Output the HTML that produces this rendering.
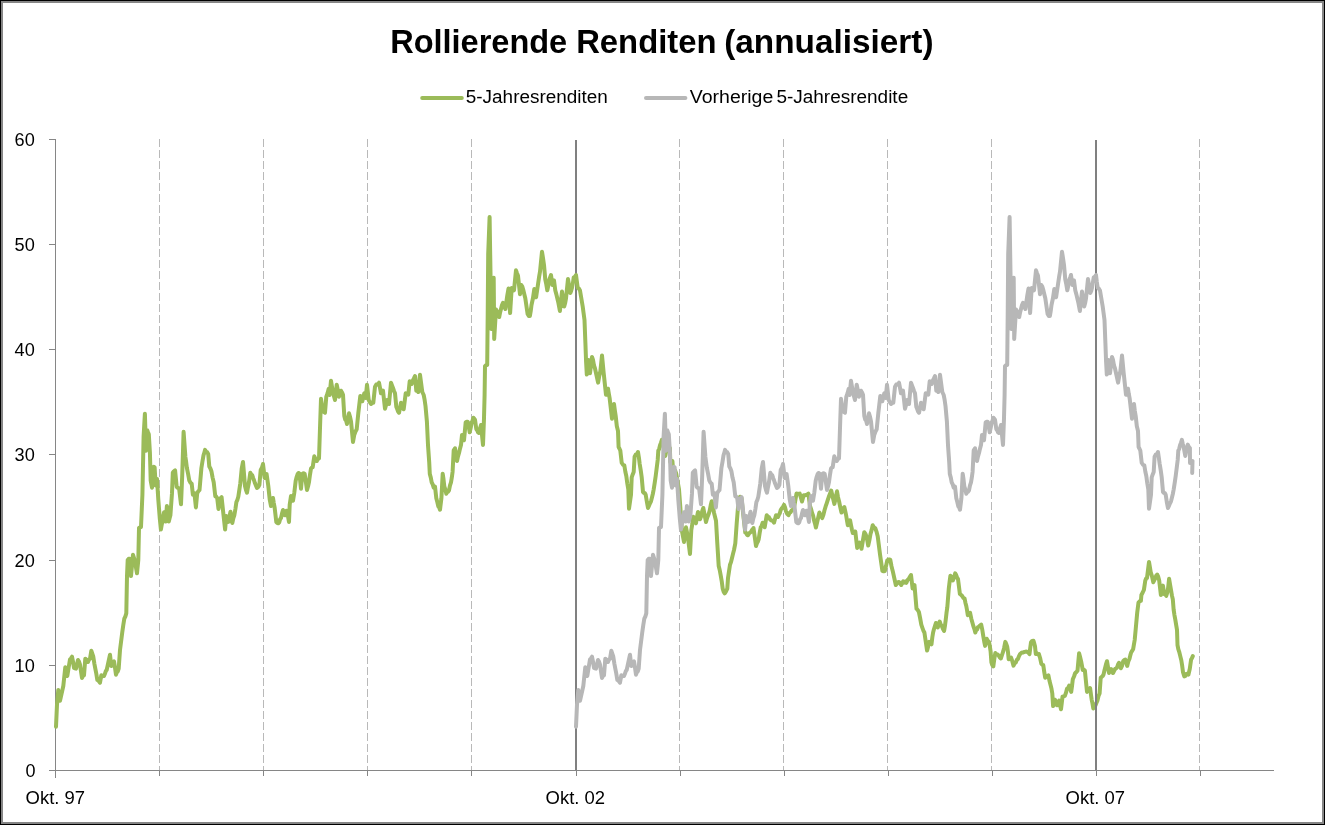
<!DOCTYPE html>
<html><head><meta charset="utf-8"><title>Rollierende Renditen</title>
<style>
html,body{margin:0;padding:0;background:#fff;}
body{width:1325px;height:825px;overflow:hidden;font-family:"Liberation Sans",sans-serif;}
svg{display:block;}
text{font-family:"Liberation Sans",sans-serif;fill:#000;}
.t{filter:grayscale(1);}
</style></head><body>
<svg width="1325" height="825" viewBox="0 0 1325 825">
<rect x="0" y="0" width="1325" height="825" fill="#000"/>
<rect x="1" y="1" width="1323" height="823" fill="#868686"/>
<rect x="3" y="3" width="1319" height="819" fill="#fff"/>
<g class="t" font-size="33" font-weight="bold">
<text x="390.2" y="52.6" textLength="177" lengthAdjust="spacingAndGlyphs">Rollierende</text>
<text x="576.2" y="52.6" textLength="140.3" lengthAdjust="spacingAndGlyphs">Renditen</text>
<text x="724.2" y="52.6" textLength="209.3" lengthAdjust="spacingAndGlyphs">(annualisiert)</text>
</g>
<g stroke-width="4" stroke-linecap="round" fill="none">
<line x1="422.2" y1="98" x2="461.8" y2="98" stroke="#9BBB59"/>
<line x1="646" y1="98" x2="685.4" y2="98" stroke="#B7B7B7"/>
</g>
<g class="t" font-size="17.5">
<text id="leg1" x="465.8" y="103.3" textLength="142" lengthAdjust="spacingAndGlyphs">5-Jahresrenditen</text>
<text x="689.8" y="103.3" textLength="83.5" lengthAdjust="spacingAndGlyphs">Vorherige</text>
<text x="776.4" y="103.3" textLength="131.8" lengthAdjust="spacingAndGlyphs">5-Jahresrendite</text>
</g>
<g stroke="#B9B9B9" stroke-width="1" stroke-dasharray="8 3" fill="none" shape-rendering="crispEdges"><line x1="159.5" y1="139" x2="159.5" y2="770" /><line x1="263.5" y1="139" x2="263.5" y2="770" /><line x1="367.5" y1="139" x2="367.5" y2="770" /><line x1="471.5" y1="139" x2="471.5" y2="770" /><line x1="679.5" y1="139" x2="679.5" y2="770" /><line x1="783.5" y1="139" x2="783.5" y2="770" /><line x1="887.5" y1="139" x2="887.5" y2="770" /><line x1="991.5" y1="139" x2="991.5" y2="770" /><line x1="1199.5" y1="139" x2="1199.5" y2="770" /></g>
<g stroke="#868686" stroke-width="1" fill="none" shape-rendering="crispEdges">
<line x1="55.5" y1="139" x2="55.5" y2="778"/>
<line x1="49" y1="770.5" x2="1274" y2="770.5"/>
<line x1="49" y1="139.5" x2="56" y2="139.5" /><line x1="49" y1="244.5" x2="56" y2="244.5" /><line x1="49" y1="349.5" x2="56" y2="349.5" /><line x1="49" y1="454.5" x2="56" y2="454.5" /><line x1="49" y1="560.5" x2="56" y2="560.5" /><line x1="49" y1="665.5" x2="56" y2="665.5" /><line x1="49" y1="770.5" x2="56" y2="770.5" />
<line x1="159.5" y1="770" x2="159.5" y2="776" /><line x1="263.5" y1="770" x2="263.5" y2="776" /><line x1="367.5" y1="770" x2="367.5" y2="776" /><line x1="471.5" y1="770" x2="471.5" y2="776" /><line x1="576.5" y1="770" x2="576.5" y2="776" /><line x1="680.5" y1="770" x2="680.5" y2="776" /><line x1="784.5" y1="770" x2="784.5" y2="776" /><line x1="888.5" y1="770" x2="888.5" y2="776" /><line x1="992.5" y1="770" x2="992.5" y2="776" /><line x1="1096.5" y1="770" x2="1096.5" y2="776" /><line x1="1200.5" y1="770" x2="1200.5" y2="776" />
</g>
<line x1="576" y1="140" x2="576" y2="770" stroke="#808080" stroke-width="2" shape-rendering="crispEdges"/>
<path d="M56.0 726.7 L57.0 704.7 L58.3 690.0 L59.1 695.0 L60.0 700.7 L63.3 686.0 L65.3 667.3 L66.3 671.0 L67.3 676.0 L70.0 659.3 L71.0 658.3 L72.0 656.7 L73.0 661.6 L74.0 668.0 L75.0 668.4 L76.0 668.7 L77.0 664.1 L78.0 660.0 L79.0 661.6 L80.0 664.7 L81.0 671.4 L82.0 678.0 L83.0 675.8 L84.0 675.3 L85.3 658.7 L86.2 659.7 L87.1 661.7 L88.0 662.0 L89.0 659.6 L90.0 658.7 L91.3 650.7 L92.3 653.6 L93.3 656.7 L94.3 663.3 L95.3 668.7 L96.3 673.7 L97.3 680.0 L98.2 680.4 L99.1 681.6 L100.0 682.7 L101.3 675.3 L102.2 676.3 L103.1 675.6 L104.0 676.0 L104.9 673.8 L105.8 671.1 L106.7 670.0 L110.0 654.7 L111.3 666.0 L112.2 663.6 L113.1 662.2 L114.0 661.3 L115.0 667.6 L116.0 674.7 L116.9 672.1 L117.8 671.4 L118.7 668.7 L120.0 650.0 L122.3 632.0 L123.3 625.0 L124.3 618.7 L125.3 616.6 L126.3 613.3 L127.0 576.0 L127.7 560.0 L128.7 558.8 L129.7 558.7 L131.0 576.0 L133.0 554.7 L134.0 558.1 L135.0 561.3 L136.0 567.6 L137.0 573.3 L138.3 560.0 L139.0 528.0 L140.0 527.3 L141.0 527.0 L142.4 495.0 L143.6 436.5 L144.9 413.7 L146.0 450.7 L147.2 430.2 L148.0 432.3 L148.8 434.2 L149.9 452.3 L150.7 480.6 L152.0 487.7 L153.1 468.0 L153.8 466.8 L154.6 467.2 L155.7 485.4 L157.0 479.0 L158.3 499.5 L159.8 518.5 L160.9 529.5 L161.7 524.8 L162.5 521.6 L163.3 516.4 L164.1 512.2 L164.9 517.2 L165.7 521.6 L166.9 505.9 L168.8 521.6 L169.6 518.3 L170.4 515.3 L172.0 493.2 L172.8 472.8 L173.9 471.3 L175.1 470.4 L176.7 486.9 L177.9 487.9 L179.1 488.5 L181.0 504.3 L182.2 475.9 L183.6 431.8 L185.4 457.0 L186.2 462.4 L186.9 468.0 L188.1 473.9 L189.3 480.6 L190.5 482.7 L191.7 483.8 L192.9 494.8 L193.7 494.3 L194.4 493.0 L195.9 507.4 L197.2 493.2 L198.3 491.2 L199.5 490.1 L201.4 468.0 L202.4 461.8 L203.5 455.4 L204.3 452.7 L205.1 449.9 L206.1 451.9 L207.2 452.2 L208.2 453.9 L209.3 466.5 L210.4 468.5 L211.4 471.2 L212.6 477.6 L213.7 482.2 L215.3 496.4 L216.2 496.5 L217.2 498.0 L218.5 509.0 L219.7 499.5 L220.6 498.2 L221.6 497.2 L223.2 512.2 L225.1 529.5 L226.3 516.0 L227.4 519.4 L228.5 521.8 L229.5 516.2 L230.5 511.8 L231.4 517.4 L232.3 523.0 L233.3 518.3 L234.3 515.3 L235.4 509.0 L236.4 502.0 L237.4 499.8 L238.3 496.7 L239.3 490.1 L240.3 483.3 L241.7 468.7 L243.0 462.0 L245.0 486.0 L246.0 490.0 L247.0 492.7 L248.0 487.0 L249.0 482.0 L250.3 472.7 L251.3 474.4 L252.3 475.3 L253.2 478.1 L254.1 480.5 L255.0 483.3 L256.0 485.6 L257.0 488.0 L258.2 487.0 L259.4 484.7 L260.7 470.0 L261.9 467.8 L263.0 464.0 L264.7 478.0 L265.6 476.0 L266.6 474.0 L267.5 480.3 L268.3 486.0 L269.7 499.3 L271.0 506.0 L272.0 501.2 L273.0 498.0 L273.8 503.0 L274.6 507.3 L276.3 522.0 L277.3 522.9 L278.3 523.3 L279.2 522.4 L280.1 519.2 L281.0 518.0 L282.0 513.6 L283.0 510.0 L284.0 512.4 L285.0 515.3 L285.8 513.3 L286.6 510.7 L287.8 515.5 L289.0 522.0 L289.7 504.7 L291.0 496.0 L292.0 498.3 L293.0 500.7 L294.3 492.7 L295.7 480.7 L296.7 476.8 L297.7 474.0 L298.5 473.0 L299.4 473.3 L301.0 488.7 L302.3 474.0 L303.5 473.2 L304.7 474.0 L307.0 490.0 L308.0 486.5 L309.0 482.0 L310.0 474.6 L311.0 468.5 L311.9 467.4 L312.7 467.3 L313.5 461.6 L314.3 456.3 L315.6 459.3 L316.8 461.0 L317.9 458.9 L319.0 458.4 L320.0 428.0 L321.0 398.7 L321.8 404.6 L322.6 410.7 L323.8 411.8 L325.0 412.7 L326.3 396.7 L327.5 393.4 L328.7 388.7 L329.6 395.0 L331.0 380.7 L331.9 386.3 L332.7 390.7 L333.9 396.0 L335.0 400.0 L336.7 384.7 L337.9 390.3 L339.0 396.7 L340.0 393.5 L341.0 390.7 L342.0 392.4 L343.0 394.7 L344.3 416.0 L345.2 419.4 L346.1 420.5 L347.0 424.0 L348.0 418.0 L349.0 413.3 L350.0 416.7 L351.0 421.3 L353.0 442.0 L354.3 434.7 L355.5 431.5 L356.7 429.3 L358.3 413.3 L360.3 396.0 L361.3 398.2 L362.3 401.3 L363.3 397.3 L364.3 393.3 L365.7 398.0 L367.0 384.7 L368.7 400.0 L369.9 402.2 L371.0 404.0 L372.1 402.9 L373.3 402.7 L375.0 386.7 L376.3 384.5 L377.7 384.2 L379.0 382.7 L380.0 387.8 L381.0 393.3 L382.0 392.1 L383.0 390.7 L385.0 408.7 L386.0 405.2 L387.0 400.0 L388.0 402.3 L389.0 404.0 L391.0 382.7 L392.0 385.4 L393.0 388.0 L394.0 390.9 L395.0 393.3 L396.3 406.7 L397.2 409.0 L398.1 411.5 L399.0 412.7 L400.0 408.4 L401.0 402.7 L401.9 405.4 L402.8 406.4 L403.7 409.3 L405.7 393.3 L406.6 394.3 L407.4 394.4 L408.3 394.7 L409.7 381.3 L410.7 382.5 L411.7 384.0 L412.8 380.6 L413.9 378.4 L415.0 376.0 L416.3 390.7 L417.3 390.6 L418.3 392.0 L420.0 374.7 L422.3 392.0 L423.7 395.0 L424.6 399.7 L425.5 406.0 L426.9 421.5 L428.0 445.0 L429.2 462.0 L429.8 474.0 L430.8 477.6 L431.7 482.3 L432.7 484.4 L433.7 487.7 L435.0 486.5 L436.3 498.3 L437.3 502.0 L438.3 506.3 L439.1 507.2 L440.0 509.7 L441.4 498.3 L442.7 473.7 L443.5 479.1 L444.3 486.3 L445.3 489.4 L446.3 493.7 L447.2 491.8 L448.1 491.7 L449.0 490.3 L450.0 485.4 L451.0 482.3 L451.8 477.7 L452.6 471.7 L453.7 450.3 L455.0 448.3 L456.0 454.9 L457.0 461.0 L458.0 456.4 L459.0 453.0 L460.0 448.6 L461.0 445.0 L462.0 435.0 L463.0 437.4 L464.0 440.3 L465.7 422.3 L466.7 421.8 L467.7 421.7 L468.7 426.3 L469.7 432.3 L470.7 427.9 L471.7 422.3 L472.5 420.9 L473.3 417.7 L474.1 418.6 L475.0 419.7 L476.3 429.0 L477.2 430.3 L478.1 432.4 L479.0 433.0 L480.0 428.3 L481.0 425.0 L483.0 445.0 L484.0 418.3 L484.6 395.0 L485.0 366.0 L486.1 365.2 L487.2 365.0 L487.7 315.0 L488.2 254.0 L489.6 217.0 L490.6 280.0 L491.3 329.0 L492.4 292.0 L493.7 277.7 L494.2 339.0 L496.0 309.5 L497.1 311.6 L498.1 313.9 L499.2 317.0 L500.1 312.4 L501.0 309.0 L502.0 305.0 L503.0 302.8 L504.2 306.7 L505.4 309.0 L506.3 302.6 L507.2 296.0 L508.5 288.5 L510.1 313.0 L511.7 288.0 L512.9 288.5 L514.0 290.3 L516.0 270.3 L517.0 273.1 L518.0 275.7 L520.0 294.3 L521.3 285.0 L522.3 286.6 L523.3 290.0 L524.3 294.2 L525.3 298.3 L527.6 314.0 L528.8 315.9 L529.9 316.0 L530.7 311.2 L531.5 305.0 L532.9 298.5 L534.3 289.0 L535.2 293.5 L536.1 297.2 L538.2 283.0 L539.1 276.9 L540.0 271.7 L542.0 251.7 L543.0 258.1 L544.0 265.0 L545.3 279.7 L546.3 284.4 L547.3 290.3 L548.3 285.5 L549.3 279.7 L550.1 277.4 L551.0 275.0 L552.4 285.0 L553.2 283.3 L554.0 280.5 L555.3 290.5 L556.3 294.1 L557.3 298.3 L558.2 302.0 L559.0 306.2 L559.9 311.0 L562.0 291.5 L564.2 306.5 L565.1 303.3 L566.0 298.3 L568.0 279.0 L570.3 293.0 L571.1 291.0 L572.0 287.7 L572.9 283.2 L573.7 277.5 L574.9 276.8 L576.0 275.0 L576.9 281.8 L577.7 287.7 L578.9 288.6 L580.0 290.5 L582.7 306.5 L583.6 313.3 L584.5 320.0 L585.4 343.0 L586.1 362.0 L586.8 374.6 L588.3 360.0 L589.1 366.4 L590.0 373.3 L592.0 356.9 L593.0 359.9 L594.0 365.5 L595.0 368.5 L598.1 382.6 L599.2 376.4 L600.4 371.0 L602.0 355.4 L603.7 373.3 L606.0 394.7 L607.0 391.3 L608.0 388.7 L608.9 394.0 L609.7 398.7 L612.0 418.7 L614.0 404.0 L614.9 410.8 L615.7 416.0 L616.8 426.0 L618.0 431.0 L618.6 447.0 L619.5 448.7 L620.3 450.5 L621.7 462.7 L623.0 464.8 L624.3 465.3 L625.3 471.5 L626.3 476.0 L627.3 483.5 L628.3 489.3 L629.0 508.7 L631.0 494.7 L631.7 477.3 L632.7 474.4 L633.7 472.0 L634.6 456.7 L635.7 454.6 L636.9 454.1 L638.0 452.0 L638.9 457.5 L639.7 464.0 L640.7 470.1 L641.7 477.3 L643.0 492.0 L643.9 493.1 L644.8 493.1 L645.7 494.7 L646.9 502.0 L648.0 508.0 L649.0 505.7 L650.0 503.3 L651.0 501.3 L651.9 497.8 L652.8 494.0 L653.7 489.3 L654.7 482.9 L655.7 476.0 L657.7 460.0 L658.3 450.7 L659.2 448.8 L660.1 444.9 L661.0 442.7 L661.9 439.9 L662.8 444.0 L663.7 447.2 L664.5 451.6 L665.3 456.0 L666.5 449.7 L667.8 444.6 L668.8 446.8 L669.9 448.0 L670.3 462.0 L671.3 461.2 L672.4 461.0 L672.8 466.0 L674.0 469.2 L675.1 470.5 L676.3 474.0 L679.0 489.3 L680.3 507.0 L682.0 531.3 L683.0 536.5 L684.0 542.0 L686.0 527.3 L687.0 532.5 L688.0 538.0 L690.0 554.0 L691.3 530.0 L692.3 524.2 L693.3 516.7 L694.2 519.3 L695.1 521.7 L696.0 523.3 L697.0 517.0 L698.0 512.0 L699.0 515.0 L700.0 519.3 L701.1 516.3 L702.2 511.2 L703.3 508.0 L706.0 522.0 L706.9 518.7 L707.8 516.1 L708.7 514.0 L709.7 510.6 L710.7 505.3 L711.7 501.3 L712.9 506.7 L714.0 512.7 L715.0 516.8 L716.0 520.7 L717.3 543.3 L718.7 566.0 L719.7 570.0 L720.7 575.3 L721.7 581.1 L722.7 588.7 L723.7 591.8 L724.7 593.3 L726.0 591.3 L727.3 588.7 L728.0 578.0 L729.0 571.4 L730.0 564.7 L731.0 562.1 L732.0 558.0 L733.0 553.9 L734.0 550.0 L735.3 543.3 L736.7 523.3 L738.0 507.3 L739.0 502.7 L740.0 496.7 L740.8 497.9 L741.5 498.0 L743.3 515.0 L745.3 532.7 L746.2 533.0 L747.1 534.9 L748.0 535.3 L749.3 533.2 L750.7 532.2 L752.0 530.0 L752.8 529.2 L753.5 528.0 L756.0 546.0 L756.9 543.3 L757.8 541.7 L758.7 539.3 L759.7 532.6 L760.7 527.3 L761.7 525.7 L762.7 522.7 L763.7 524.7 L764.7 527.3 L765.7 521.2 L766.7 515.3 L767.8 516.8 L768.9 517.2 L770.0 519.3 L771.3 520.3 L772.7 520.8 L774.0 522.7 L775.0 519.0 L776.0 515.3 L777.0 516.2 L778.0 517.0 L778.9 514.7 L779.8 513.2 L780.7 510.0 L781.8 508.2 L782.9 507.2 L784.0 504.9 L785.0 507.2 L786.0 511.3 L787.2 513.8 L788.5 515.2 L789.5 513.0 L790.6 512.1 L791.6 510.5 L792.8 509.7 L794.0 508.0 L796.5 493.6 L797.6 493.7 L798.6 493.9 L799.7 493.6 L800.9 497.6 L802.0 501.5 L802.8 498.4 L803.6 495.2 L805.2 495.2 L806.8 494.8 L808.4 493.6 L809.2 499.9 L810.0 506.0 L811.0 508.8 L812.1 512.9 L813.1 515.7 L814.0 520.1 L815.0 523.6 L815.9 527.5 L819.4 512.5 L820.3 514.5 L821.3 515.8 L822.2 518.1 L823.4 514.9 L824.5 510.3 L825.7 506.2 L826.7 503.3 L827.8 499.9 L828.8 496.8 L830.0 493.7 L831.2 490.5 L832.3 495.3 L833.3 499.5 L834.4 503.9 L835.3 499.8 L836.1 495.5 L837.0 491.3 L838.0 497.2 L839.1 501.5 L840.3 507.4 L841.5 512.5 L842.4 511.3 L843.4 508.0 L844.3 507.0 L845.2 510.9 L846.2 515.7 L847.0 520.6 L847.8 525.2 L849.0 523.6 L850.1 520.4 L851.0 525.2 L851.9 529.5 L852.8 533.0 L854.0 531.6 L855.3 531.5 L857.2 548.0 L858.4 545.1 L859.6 542.5 L860.5 544.9 L861.5 548.8 L864.3 532.2 L865.3 533.6 L866.3 536.0 L867.2 540.0 L868.2 545.6 L869.4 540.1 L870.5 534.0 L871.6 530.1 L872.7 525.2 L874.0 527.5 L875.3 528.3 L876.5 531.6 L877.7 536.2 L880.1 555.1 L882.4 570.9 L883.6 571.3 L884.8 571.0 L886.0 566.1 L887.2 560.6 L888.2 559.7 L889.3 559.4 L890.3 559.8 L891.5 566.2 L892.7 570.9 L895.8 585.0 L896.9 583.5 L897.9 582.1 L899.0 581.9 L900.1 583.3 L901.3 585.0 L902.2 583.1 L903.2 581.3 L904.2 582.7 L905.3 581.7 L906.3 582.8 L907.5 580.2 L908.7 578.9 L909.9 576.8 L911.0 575.0 L911.8 581.7 L912.6 588.4 L913.5 586.5 L914.5 585.2 L916.5 608.8 L917.7 609.9 L918.9 612.0 L920.1 618.0 L921.3 624.6 L922.3 627.6 L923.4 630.7 L924.4 632.5 L927.1 650.6 L928.2 646.3 L929.2 641.9 L930.4 643.0 L931.5 644.3 L932.3 637.5 L933.1 632.5 L934.0 629.0 L935.0 625.9 L935.9 623.0 L936.8 625.3 L937.8 627.5 L938.8 623.7 L939.7 621.5 L940.8 624.6 L941.8 626.0 L943.0 629.0 L944.1 630.9 L944.9 626.2 L945.7 619.9 L946.5 612.9 L947.3 607.3 L948.8 588.4 L949.6 581.7 L950.4 575.8 L951.6 577.3 L952.8 580.5 L954.0 577.5 L955.2 573.4 L956.1 574.8 L957.1 577.7 L958.0 578.9 L959.9 593.9 L961.0 594.8 L962.2 596.0 L963.4 598.0 L964.6 598.6 L965.4 602.7 L966.2 605.7 L967.0 610.0 L967.8 615.2 L969.0 613.4 L970.1 612.8 L971.3 618.7 L972.5 623.0 L973.4 626.3 L974.4 629.0 L975.3 632.5 L976.2 629.9 L977.1 629.6 L978.0 627.0 L979.1 626.5 L980.1 625.5 L981.2 624.6 L982.2 629.3 L983.2 635.6 L984.2 641.5 L985.1 645.9 L985.9 642.6 L986.7 638.8 L987.9 640.9 L989.0 642.0 L989.8 646.0 L990.6 651.4 L991.4 662.4 L992.3 665.0 L993.3 666.4 L994.3 658.9 L995.3 653.0 L996.5 654.4 L997.7 654.5 L998.8 655.8 L999.8 657.5 L1000.9 658.5 L1002.0 655.0 L1003.2 651.4 L1004.2 647.4 L1005.3 641.9 L1006.2 643.9 L1007.2 646.7 L1008.0 652.3 L1008.7 659.3 L1009.9 658.5 L1011.1 657.7 L1012.3 661.2 L1013.5 665.6 L1014.6 663.3 L1015.8 662.4 L1016.9 659.7 L1017.9 659.0 L1019.0 656.1 L1020.1 654.0 L1021.3 653.0 L1022.2 652.4 L1023.2 652.5 L1024.5 651.9 L1025.8 651.6 L1027.1 651.8 L1028.3 652.6 L1029.5 654.1 L1030.2 648.2 L1031.0 642.3 L1032.2 640.9 L1033.4 640.7 L1034.2 643.2 L1035.0 646.2 L1035.8 654.1 L1036.8 653.2 L1037.9 654.5 L1038.9 654.1 L1040.1 658.0 L1041.3 663.6 L1042.3 664.8 L1043.3 665.2 L1044.2 671.6 L1045.2 677.8 L1046.3 676.4 L1047.3 676.2 L1048.4 675.4 L1049.6 681.3 L1050.7 685.6 L1051.5 688.8 L1052.3 693.5 L1053.1 706.1 L1054.0 703.5 L1055.0 699.8 L1056.0 702.4 L1057.0 705.3 L1058.0 702.9 L1059.1 700.6 L1060.0 705.6 L1061.0 709.3 L1061.8 702.8 L1062.5 696.7 L1063.7 696.3 L1064.9 695.9 L1066.0 692.7 L1067.0 688.8 L1068.1 688.1 L1069.2 685.6 L1070.2 688.5 L1071.2 691.9 L1072.0 686.2 L1072.8 679.3 L1074.0 676.5 L1075.2 673.0 L1076.3 672.1 L1077.5 670.7 L1079.1 653.3 L1080.1 657.1 L1081.1 661.2 L1081.9 665.3 L1082.7 669.9 L1083.8 669.5 L1084.9 670.7 L1087.0 691.9 L1088.0 689.9 L1089.1 690.1 L1090.1 688.0 L1090.9 694.3 L1091.7 699.8 L1092.5 703.7 L1093.3 708.5 L1094.3 706.1 L1095.4 705.6 L1096.4 703.0 L1097.5 700.4 L1098.5 696.0 L1099.6 693.5 L1100.7 677.8 L1101.6 677.0 L1102.6 676.1 L1103.5 674.6 L1104.5 670.2 L1105.4 666.7 L1106.2 663.6 L1107.0 661.2 L1108.0 667.0 L1109.0 673.0 L1110.0 670.4 L1111.1 669.1 L1112.0 671.0 L1113.0 673.0 L1114.0 671.0 L1115.1 669.0 L1116.1 668.3 L1117.1 667.3 L1118.0 664.5 L1119.0 662.8 L1120.0 665.1 L1120.9 668.3 L1122.1 665.6 L1123.2 661.2 L1124.2 660.1 L1125.3 659.6 L1126.2 662.5 L1127.2 665.9 L1128.3 661.5 L1129.5 658.8 L1130.3 655.4 L1131.1 652.5 L1132.1 650.9 L1133.1 649.3 L1133.9 644.7 L1134.7 640.0 L1135.8 628.1 L1137.2 612.8 L1138.5 602.6 L1139.7 601.2 L1140.9 600.9 L1141.4 595.0 L1142.7 592.5 L1143.9 589.9 L1145.3 580.5 L1146.2 578.4 L1147.0 578.0 L1149.0 561.9 L1149.8 566.6 L1150.7 572.1 L1152.0 576.4 L1153.3 582.2 L1154.2 580.3 L1155.0 578.8 L1156.1 575.9 L1157.2 574.6 L1158.2 576.7 L1159.2 580.5 L1160.9 595.0 L1161.9 589.9 L1162.9 585.6 L1164.3 594.1 L1165.3 594.5 L1166.3 595.8 L1167.2 592.6 L1168.0 589.0 L1169.1 578.8 L1170.1 584.8 L1171.1 590.7 L1171.9 595.4 L1172.8 599.2 L1173.6 609.4 L1174.4 614.8 L1175.3 619.6 L1176.2 625.1 L1177.0 629.8 L1177.5 645.0 L1178.3 649.1 L1179.2 651.8 L1180.2 655.9 L1181.3 660.3 L1182.2 665.9 L1183.0 672.2 L1184.3 676.4 L1185.3 676.0 L1186.4 673.9 L1187.4 673.7 L1188.4 674.7 L1189.8 668.8 L1191.1 659.5 L1191.9 658.2 L1192.8 656.1" fill="none" stroke="#9BBB59" stroke-width="4" stroke-linejoin="round" stroke-linecap="round"/>
<line x1="1096" y1="140" x2="1096" y2="770" stroke="#808080" stroke-width="2" shape-rendering="crispEdges"/>
<path d="M576.0 726.7 L577.0 704.7 L578.3 690.0 L579.1 695.0 L580.0 700.7 L583.3 686.0 L585.3 667.3 L586.3 671.0 L587.3 676.0 L590.0 659.3 L591.0 658.3 L592.0 656.7 L593.0 661.6 L594.0 668.0 L595.0 668.4 L596.0 668.7 L597.0 664.1 L598.0 660.0 L599.0 661.6 L600.0 664.7 L601.0 671.4 L602.0 678.0 L603.0 675.8 L604.0 675.3 L605.3 658.7 L606.2 659.7 L607.1 661.7 L608.0 662.0 L609.0 659.6 L610.0 658.7 L611.3 650.7 L612.3 653.6 L613.3 656.7 L614.3 663.3 L615.3 668.7 L616.3 673.7 L617.3 680.0 L618.2 680.4 L619.1 681.6 L620.0 682.7 L621.3 675.3 L622.2 676.3 L623.1 675.6 L624.0 676.0 L624.9 673.8 L625.8 671.1 L626.7 670.0 L630.0 654.7 L631.3 666.0 L632.2 663.6 L633.1 662.2 L634.0 661.3 L635.0 667.6 L636.0 674.7 L636.9 672.1 L637.8 671.4 L638.7 668.7 L640.0 650.0 L642.3 632.0 L643.3 625.0 L644.3 618.7 L645.3 616.6 L646.3 613.3 L647.0 576.0 L647.7 560.0 L648.7 558.8 L649.7 558.7 L651.0 576.0 L653.0 554.7 L654.0 558.1 L655.0 561.3 L656.0 567.6 L657.0 573.3 L658.3 560.0 L659.0 528.0 L660.0 527.3 L661.0 527.0 L662.4 495.0 L663.6 436.5 L664.9 413.7 L666.0 450.7 L667.2 430.2 L668.0 432.3 L668.8 434.2 L669.9 452.3 L670.7 480.6 L672.0 487.7 L673.1 468.0 L673.9 466.8 L674.6 467.2 L675.7 485.4 L677.0 479.0 L678.3 499.5 L679.8 518.5 L680.9 529.5 L681.7 524.8 L682.5 521.6 L683.3 516.4 L684.1 512.2 L684.9 517.2 L685.7 521.6 L686.9 505.9 L688.8 521.6 L689.6 518.3 L690.4 515.3 L692.0 493.2 L692.8 472.8 L694.0 471.3 L695.1 470.4 L696.7 486.9 L697.9 487.9 L699.1 488.5 L701.0 504.3 L702.2 475.9 L703.6 431.8 L705.4 457.0 L706.1 462.4 L706.9 468.0 L708.1 473.9 L709.3 480.6 L710.5 482.7 L711.7 483.8 L712.9 494.8 L713.6 494.3 L714.4 493.0 L715.9 507.4 L717.2 493.2 L718.4 491.2 L719.5 490.1 L721.4 468.0 L722.5 461.8 L723.5 455.4 L724.3 452.7 L725.1 449.9 L726.1 451.9 L727.2 452.2 L728.2 453.9 L729.3 466.5 L730.4 468.5 L731.4 471.2 L732.5 477.6 L733.7 482.2 L735.3 496.4 L736.2 496.5 L737.2 498.0 L738.5 509.0 L739.7 499.5 L740.6 498.2 L741.6 497.2 L743.2 512.2 L745.1 529.5 L746.3 516.0 L747.4 519.4 L748.5 521.8 L749.5 516.2 L750.5 511.8 L751.4 517.4 L752.3 523.0 L753.3 518.3 L754.3 515.3 L755.4 509.0 L756.4 502.0 L757.4 499.8 L758.3 496.7 L759.3 490.1 L760.3 483.3 L761.7 468.7 L763.0 462.0 L765.0 486.0 L766.0 490.0 L767.0 492.7 L768.0 487.0 L769.0 482.0 L770.3 472.7 L771.3 474.4 L772.3 475.3 L773.2 478.1 L774.1 480.5 L775.0 483.3 L776.0 485.6 L777.0 488.0 L778.2 487.0 L779.4 484.7 L780.7 470.0 L781.9 467.8 L783.0 464.0 L784.7 478.0 L785.6 476.0 L786.6 474.0 L787.5 480.3 L788.3 486.0 L789.7 499.3 L791.0 506.0 L792.0 501.2 L793.0 498.0 L793.8 503.0 L794.6 507.3 L796.3 522.0 L797.3 522.9 L798.3 523.3 L799.2 522.4 L800.1 519.2 L801.0 518.0 L802.0 513.6 L803.0 510.0 L804.0 512.4 L805.0 515.3 L805.8 513.3 L806.6 510.7 L807.8 515.5 L809.0 522.0 L809.7 504.7 L811.0 496.0 L812.0 498.3 L813.0 500.7 L814.3 492.7 L815.7 480.7 L816.7 476.8 L817.7 474.0 L818.5 473.0 L819.4 473.3 L821.0 488.7 L822.3 474.0 L823.5 473.2 L824.7 474.0 L827.0 490.0 L828.0 486.5 L829.0 482.0 L830.0 474.6 L831.0 468.5 L831.9 467.4 L832.7 467.3 L833.5 461.6 L834.3 456.3 L835.5 459.3 L836.8 461.0 L837.9 458.9 L839.0 458.4 L840.0 428.0 L841.0 398.7 L841.8 404.6 L842.6 410.7 L843.8 411.8 L845.0 412.7 L846.3 396.7 L847.5 393.4 L848.7 388.7 L849.6 395.0 L851.0 380.7 L851.9 386.3 L852.7 390.7 L853.9 396.0 L855.0 400.0 L856.7 384.7 L857.9 390.3 L859.0 396.7 L860.0 393.5 L861.0 390.7 L862.0 392.4 L863.0 394.7 L864.3 416.0 L865.2 419.4 L866.1 420.5 L867.0 424.0 L868.0 418.0 L869.0 413.3 L870.0 416.7 L871.0 421.3 L873.0 442.0 L874.3 434.7 L875.5 431.5 L876.7 429.3 L878.3 413.3 L880.3 396.0 L881.3 398.2 L882.3 401.3 L883.3 397.3 L884.3 393.3 L885.7 398.0 L887.0 384.7 L888.7 400.0 L889.9 402.2 L891.0 404.0 L892.1 402.9 L893.3 402.7 L895.0 386.7 L896.3 384.5 L897.7 384.2 L899.0 382.7 L900.0 387.8 L901.0 393.3 L902.0 392.1 L903.0 390.7 L905.0 408.7 L906.0 405.2 L907.0 400.0 L908.0 402.3 L909.0 404.0 L911.0 382.7 L912.0 385.4 L913.0 388.0 L914.0 390.9 L915.0 393.3 L916.3 406.7 L917.2 409.0 L918.1 411.5 L919.0 412.7 L920.0 408.4 L921.0 402.7 L921.9 405.4 L922.8 406.4 L923.7 409.3 L925.7 393.3 L926.6 394.3 L927.4 394.4 L928.3 394.7 L929.7 381.3 L930.7 382.5 L931.7 384.0 L932.8 380.6 L933.9 378.4 L935.0 376.0 L936.3 390.7 L937.3 390.6 L938.3 392.0 L940.0 374.7 L942.3 392.0 L943.7 395.0 L944.6 399.7 L945.5 406.0 L946.9 421.5 L948.0 445.0 L949.2 462.0 L949.8 474.0 L950.8 477.6 L951.7 482.3 L952.7 484.4 L953.7 487.7 L955.0 486.5 L956.3 498.3 L957.3 502.0 L958.3 506.3 L959.1 507.2 L960.0 509.7 L961.4 498.3 L962.7 473.7 L963.5 479.1 L964.3 486.3 L965.3 489.4 L966.3 493.7 L967.2 491.8 L968.1 491.7 L969.0 490.3 L970.0 485.4 L971.0 482.3 L971.8 477.7 L972.6 471.7 L973.7 450.3 L975.0 448.3 L976.0 454.9 L977.0 461.0 L978.0 456.4 L979.0 453.0 L980.0 448.6 L981.0 445.0 L982.0 435.0 L983.0 437.4 L984.0 440.3 L985.7 422.3 L986.7 421.8 L987.7 421.7 L988.7 426.3 L989.7 432.3 L990.7 427.9 L991.7 422.3 L992.5 420.9 L993.3 417.7 L994.1 418.6 L995.0 419.7 L996.3 429.0 L997.2 430.3 L998.1 432.4 L999.0 433.0 L1000.0 428.3 L1001.0 425.0 L1003.0 445.0 L1004.0 418.3 L1004.6 395.0 L1005.0 366.0 L1006.1 365.2 L1007.2 365.0 L1007.7 315.0 L1008.2 254.0 L1009.6 217.0 L1010.6 280.0 L1011.3 329.0 L1012.4 292.0 L1013.7 277.7 L1014.2 339.0 L1016.0 309.5 L1017.1 311.6 L1018.1 313.9 L1019.2 317.0 L1020.1 312.4 L1021.0 309.0 L1022.0 305.0 L1023.0 302.8 L1024.2 306.7 L1025.4 309.0 L1026.3 302.6 L1027.2 296.0 L1028.5 288.5 L1030.1 313.0 L1031.7 288.0 L1032.8 288.5 L1034.0 290.3 L1036.0 270.3 L1037.0 273.1 L1038.0 275.7 L1040.0 294.3 L1041.3 285.0 L1042.3 286.6 L1043.3 290.0 L1044.3 294.2 L1045.3 298.3 L1047.6 314.0 L1048.8 315.9 L1049.9 316.0 L1050.7 311.2 L1051.5 305.0 L1052.9 298.5 L1054.3 289.0 L1055.2 293.5 L1056.1 297.2 L1058.2 283.0 L1059.1 276.9 L1060.0 271.7 L1062.0 251.7 L1063.0 258.1 L1064.0 265.0 L1065.3 279.7 L1066.3 284.4 L1067.3 290.3 L1068.3 285.5 L1069.3 279.7 L1070.2 277.4 L1071.0 275.0 L1072.4 285.0 L1073.2 283.3 L1074.0 280.5 L1075.3 290.5 L1076.3 294.1 L1077.3 298.3 L1078.2 302.0 L1079.0 306.2 L1079.9 311.0 L1082.0 291.5 L1084.2 306.5 L1085.1 303.3 L1086.0 298.3 L1088.0 279.0 L1090.3 293.0 L1091.2 291.0 L1092.0 287.7 L1092.8 283.2 L1093.7 277.5 L1094.8 276.8 L1096.0 275.0 L1096.8 281.8 L1097.7 287.7 L1098.8 288.6 L1100.0 290.5 L1102.7 306.5 L1103.6 313.3 L1104.5 320.0 L1105.4 343.0 L1106.1 362.0 L1106.8 374.6 L1108.3 360.0 L1109.2 366.4 L1110.0 373.3 L1112.0 356.9 L1113.0 359.9 L1114.0 365.5 L1115.0 368.5 L1118.1 382.6 L1119.2 376.4 L1120.4 371.0 L1122.0 355.4 L1123.7 373.3 L1126.0 394.7 L1127.0 391.3 L1128.0 388.7 L1128.8 394.0 L1129.7 398.7 L1132.0 418.7 L1134.0 404.0 L1134.8 410.8 L1135.7 416.0 L1136.8 426.0 L1138.0 431.0 L1138.6 447.0 L1139.5 448.7 L1140.3 450.5 L1141.7 462.7 L1143.0 464.8 L1144.3 465.3 L1145.3 471.5 L1146.3 476.0 L1147.3 483.5 L1148.3 489.3 L1149.0 508.7 L1151.0 494.7 L1151.7 477.3 L1152.7 474.4 L1153.7 472.0 L1154.6 456.7 L1155.7 454.6 L1156.9 454.1 L1158.0 452.0 L1158.8 457.5 L1159.7 464.0 L1160.7 470.1 L1161.7 477.3 L1163.0 492.0 L1163.9 493.1 L1164.8 493.1 L1165.7 494.7 L1166.8 502.0 L1168.0 508.0 L1169.0 505.7 L1170.0 503.3 L1171.0 501.3 L1171.9 497.8 L1172.8 494.0 L1173.7 489.3 L1174.7 482.9 L1175.7 476.0 L1177.7 460.0 L1178.3 450.7 L1179.2 448.8 L1180.1 444.9 L1181.0 442.7 L1181.9 439.9 L1182.8 444.0 L1183.7 447.2 L1184.5 451.6 L1185.3 456.0 L1186.5 449.7 L1187.8 444.6 L1188.8 446.8 L1189.9 448.0 L1190.0 463.0 L1192.5 461.0 L1192.2 473.0" fill="none" stroke="#B7B7B7" stroke-width="4" stroke-linejoin="round" stroke-linecap="round"/>
<g class="t" font-size="18">
<text x="14.6" y="146.1" textLength="20.2" lengthAdjust="spacingAndGlyphs">60</text><text x="14.6" y="251.1" textLength="20.2" lengthAdjust="spacingAndGlyphs">50</text><text x="14.6" y="356.1" textLength="20.2" lengthAdjust="spacingAndGlyphs">40</text><text x="14.6" y="461.1" textLength="20.2" lengthAdjust="spacingAndGlyphs">30</text><text x="14.6" y="567.1" textLength="20.2" lengthAdjust="spacingAndGlyphs">20</text><text x="14.6" y="672.1" textLength="20.2" lengthAdjust="spacingAndGlyphs">10</text><text x="35.6" y="777.1" text-anchor="end">0</text>
<text x="55.3" y="803.8" text-anchor="middle" textLength="59.5" lengthAdjust="spacingAndGlyphs">Okt. 97</text>
<text x="575.3" y="803.8" text-anchor="middle" textLength="59.5" lengthAdjust="spacingAndGlyphs">Okt. 02</text>
<text x="1095.3" y="803.8" text-anchor="middle" textLength="59.5" lengthAdjust="spacingAndGlyphs">Okt. 07</text>
</g>
</svg>
</body></html>
